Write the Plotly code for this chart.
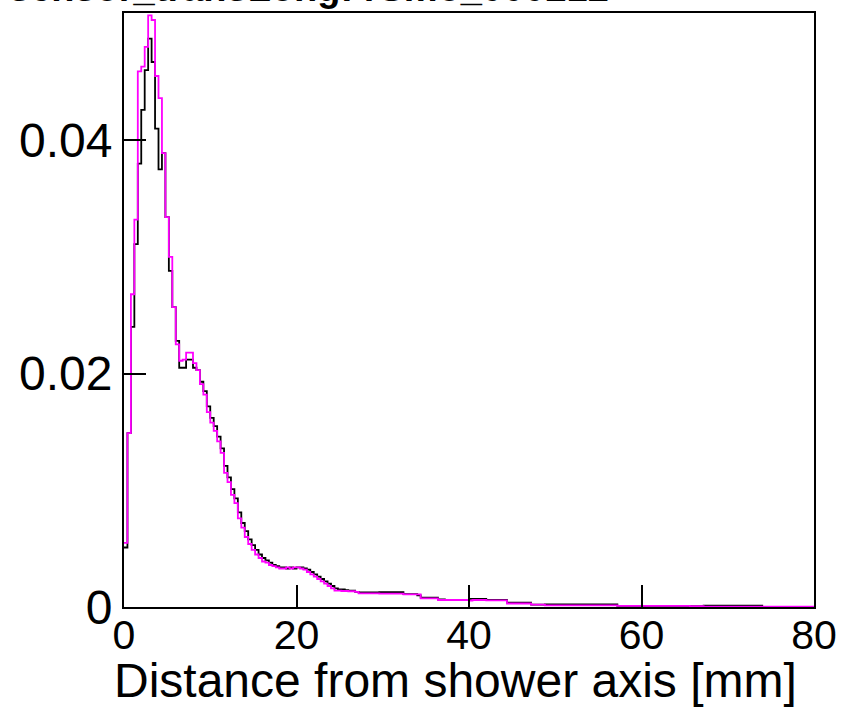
import numpy as np
import plotly.graph_objects as go

# ---- data (0.4 mm bins from 0 to 80 mm) ----
bin_width = 0.4
n_bins = 200

black_vals = [
    0.0051, 0.0149, 0.0240, 0.0311, 0.0380, 0.0426, 0.0460, 0.0487, 0.0467, 0.0410,
    0.0375, 0.0389, 0.0334, 0.0288, 0.0257, 0.0228, 0.0205, 0.0205, 0.0212, 0.0212,
    0.0205, 0.0203, 0.0193, 0.0185, 0.0172, 0.0162, 0.0155, 0.0146, 0.0136, 0.0121,
    0.0111, 0.0101, 0.0093, 0.0081, 0.0072, 0.0065, 0.0058, 0.0053, 0.0049, 0.0045,
    0.0042, 0.0040, 0.0038, 0.0036, 0.0035, 0.0034, 0.0034, 0.0033, 0.0034, 0.0033,
    0.0034, 0.0034, 0.0033, 0.0032, 0.0030, 0.0028, 0.0026, 0.0024, 0.0022, 0.0020,
    0.0018, 0.0016, 0.0015, 0.0015, 0.00145, 0.0014, 0.0014, 0.0013, 0.00125, 0.00125,
    0.00125, 0.00125, 0.00125, 0.00125, 0.00128, 0.00128, 0.00128, 0.00128, 0.00128, 0.00128,
    0.00128, 0.0011, 0.0011, 0.0011, 0.0011, 0.0010, 0.0008, 0.0008, 0.0008, 0.0008,
    0.0008, 0.00065, 0.00065, 0.0006, 0.0006, 0.0006, 0.0006, 0.0006, 0.0006, 0.0006,
    0.0007, 0.0007, 0.0007, 0.0007, 0.0007, 0.0006, 0.0006, 0.0006, 0.0006, 0.0006,
    0.0006, 0.00037, 0.00037, 0.00037, 0.00037, 0.00037, 0.00037, 0.00037, 0.0002, 0.0002,
    0.0002, 0.0002, 0.00023, 0.00023, 0.00023, 0.00023, 0.00023, 0.00023, 0.00023, 0.00023,
    0.00023, 0.00023, 0.00023, 0.00023, 0.00023, 0.00023, 0.00023, 0.00023, 0.00023, 0.00023,
    0.00023, 0.00023, 0.00023, 0.0001, 0.0001, 0.0001, 0.0001, 0.0001, 0.0001, 0.0001,
    0.0001, 0.0001, 0.0001, 0.0001, 0.0001, 0.0001, 0.0001, 0.0001, 0.0001, 0.0001,
    0.0001, 0.0001, 0.0001, 0.0001, 0.00008, 0.00008, 0.00008, 0.00008, 0.00012, 0.00012,
    0.00012, 0.00012, 0.00012, 0.00012, 0.00012, 0.00012, 0.00012, 0.00012, 0.00012, 0.00012,
    0.00012, 0.00012, 0.00012, 0.00012, 0.00012, 0.0, 0.0, 0.0, 0.0, 0.0,
    0.0, 0.0, 0.0, 0.0, 0.0, 0.0, 0.0, 0.0, 0.0, 0.0,
]

magenta_vals = [
    0.0055, 0.0149, 0.0268, 0.0332, 0.0459, 0.0463, 0.0480, 0.0507, 0.0503, 0.0455,
    0.0436, 0.0389, 0.0334, 0.0300, 0.0257, 0.0225, 0.0211, 0.0212, 0.0218, 0.0218,
    0.0209, 0.0203, 0.0191, 0.0182, 0.0167, 0.0158, 0.0151, 0.0142, 0.0132, 0.0115,
    0.0107, 0.0096, 0.0089, 0.0076, 0.0068, 0.0060, 0.0054, 0.0049, 0.0045, 0.0042,
    0.0039, 0.0038, 0.0036, 0.0035, 0.0034, 0.0033, 0.0033, 0.0034, 0.0033, 0.0034,
    0.0034, 0.0033, 0.0032, 0.0030, 0.0028, 0.0026, 0.0024, 0.0022, 0.0020, 0.0018,
    0.0016, 0.0014, 0.0014, 0.00137, 0.00137, 0.00135, 0.00135, 0.0013, 0.00117, 0.00117,
    0.00117, 0.00117, 0.00117, 0.00117, 0.00115, 0.00115, 0.00115, 0.00115, 0.00115, 0.00115,
    0.00115, 0.00108, 0.00108, 0.00108, 0.00108, 0.00108, 0.00074, 0.00074, 0.00074, 0.00074,
    0.00074, 0.0006, 0.0006, 0.0006, 0.0006, 0.0006, 0.0006, 0.0006, 0.0006, 0.0006,
    0.00055, 0.0006, 0.0006, 0.0006, 0.0006, 0.00057, 0.00057, 0.00057, 0.00057, 0.00057,
    0.00057, 0.0003, 0.0003, 0.0003, 0.0003, 0.0003, 0.0003, 0.0003, 0.0002, 0.0002,
    0.0002, 0.0002, 0.00014, 0.00014, 0.00014, 0.00014, 0.00014, 0.00014, 0.00014, 0.00014,
    0.00014, 0.00014, 0.00014, 0.00014, 0.00014, 0.00014, 0.00014, 0.00014, 0.00014, 0.00014,
    0.00014, 0.00014, 0.00014, 0.00009, 0.00009, 0.00009, 0.00009, 0.00009, 0.00009, 0.00009,
    0.00009, 0.00009, 0.00009, 0.00009, 0.00009, 0.00009, 0.00009, 0.00009, 0.00009, 0.00009,
    0.00009, 0.00009, 0.00009, 0.00009, 0.00008, 0.00008, 0.00008, 0.00008, 0.00004, 0.00004,
    0.00004, 0.00004, 0.00004, 0.00004, 0.00004, 0.00004, 0.00004, 0.00004, 0.00004, 0.00004,
    0.00004, 0.00004, 0.00004, 0.00004, 0.00004, 0.00002, 0.00002, 0.00002, 0.00002, 0.00002,
    0.00002, 0.00002, 0.00002, 0.00002, 0.00002, 0.00002, 0.00002, 0.00002, 0.00002, 0.00002,
]

x_tick_vals = [0, 20, 40, 60, 80]
x_tick_text = ["0", "20", "40", "60", "80"]
y_tick_vals = [0, 0.02, 0.04]
y_tick_text = ["0", "0.02", "0.04"]

title_text = "sensor_transLong: rSmo_000212"
x_title = "Distance from shower axis [mm]"

# ---- build step outlines ----
edges = [i * bin_width for i in range(n_bins + 1)]


def step_xy(vals):
    xs = edges[:]
    ys = list(vals) + [vals[-1]]
    return xs, ys


FONT = "Liberation Sans, Arial, Helvetica, sans-serif"

fig = go.Figure()
bx, by = step_xy(black_vals)
fig.add_trace(go.Scatter(x=bx, y=by, mode="lines", line_shape="hv",
                         line=dict(color="#000000", width=1.8), showlegend=False))
mx, my = step_xy(magenta_vals)
fig.add_trace(go.Scatter(x=mx, y=my, mode="lines", line_shape="hv",
                         line=dict(color="#ff00ff", width=1.8), showlegend=False))

fig.update_layout(
    width=848, height=717,
    margin=dict(l=124, r=30, t=11, b=110),
    paper_bgcolor="white", plot_bgcolor="white",
    font=dict(family=FONT, color="black"),
    showlegend=False,
)
fig.update_xaxes(
    range=[0, 80], tickvals=x_tick_vals, ticktext=x_tick_text,
    ticks="inside", ticklen=22, tickwidth=2, tickcolor="black",
    showline=True, linewidth=2, linecolor="black", mirror=True,
    showgrid=False, zeroline=False, ticklabelstandoff=-9,
    tickfont=dict(size=41, family=FONT, color="black"),
)
fig.update_yaxes(
    range=[0, 0.0509], tickvals=y_tick_vals, ticktext=y_tick_text,
    ticks="inside", ticklen=22, tickwidth=2, tickcolor="black",
    showline=True, linewidth=2, linecolor="black", mirror=True,
    showgrid=False, zeroline=False,
    tickfont=dict(size=48, family=FONT, color="black"),
)

fig.add_annotation(
    text=x_title, xref="paper", yref="paper", x=0.9785, y=-0.124,
    xanchor="right", yanchor="middle", showarrow=False,
    font=dict(size=48, family=FONT, color="black"),
)
fig.add_annotation(
    text="<b>" + title_text + "</b>", xref="paper", yref="paper",
    x=(6 - 124) / 694, y=1.0042, xanchor="left", yanchor="bottom",
    showarrow=False, font=dict(size=38, family=FONT, color="black"),
)

fig.write_html("out.html")
